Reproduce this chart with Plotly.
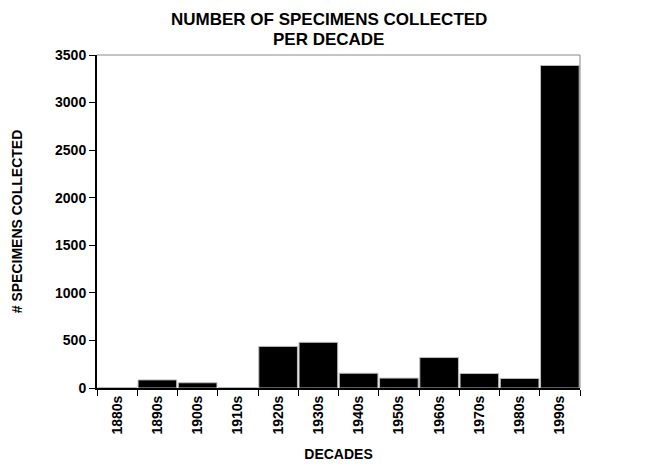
import plotly.graph_objects as go

decades = ["1880s", "1890s", "1900s", "1910s", "1920s", "1930s", "1940s",
           "1950s", "1960s", "1970s", "1980s", "1990s"]
specimens = [5, 85, 55, 5, 437, 480, 155, 104, 320, 152, 100, 3390]
y_ticks = [0, 500, 1000, 1500, 2000, 2500, 3000, 3500]

font = "Liberation Sans, Arial, sans-serif"

fig = go.Figure(go.Bar(
    x=decades, y=specimens,
    marker=dict(color="black", line=dict(color="#bbbbbb", width=1)),
))

fig.update_layout(
    width=653, height=466,
    margin=dict(l=89, r=81, t=47, b=86, autoexpand=False),
    paper_bgcolor="white", plot_bgcolor="white",
    bargap=0.04,
    showlegend=False,
    font=dict(family=font, color="black"),
    annotations=[
        dict(text="<b>NUMBER OF SPECIMENS COLLECTED</b>", xref="paper", yref="paper",
             x=0.48, y=1.0, yshift=36, xanchor="center", yanchor="middle",
             showarrow=False, font=dict(family=font, size=17, color="black")),
        dict(text="<b>PER DECADE</b>", xref="paper", yref="paper",
             x=0.48, y=1.0, yshift=16, xanchor="center", yanchor="middle",
             showarrow=False, font=dict(family=font, size=17, color="black")),
    ],
    xaxis=dict(
        type="category", automargin=False,
        tickson="boundaries", ticks="outside", ticklen=6, tickcolor="black",
        tickangle=-90,
        tickfont=dict(family=font, size=14, color="black", weight="bold"),
        showline=True, linecolor="black", linewidth=2,
        showgrid=False,
        title=dict(text="<b>DECADES</b>", font=dict(family=font, size=14), standoff=16),
    ),
    yaxis=dict(
        range=[0, 3500], tickvals=y_ticks, automargin=False,
        ticks="outside", ticklen=6, tickcolor="black",
        tickfont=dict(family=font, size=14, color="black", weight="bold"),
        showline=True, linecolor="black", linewidth=2,
        showgrid=False, zeroline=False,
        title=dict(text="<b># SPECIMENS COLLECTED</b>", font=dict(family=font, size=14), standoff=29),
    ),
    shapes=[
        dict(type="line", xref="paper", yref="paper", x0=0, x1=1, y0=1, y1=1,
             line=dict(color="#888888", width=1)),
        dict(type="line", xref="paper", yref="paper", x0=1, x1=1, y0=0, y1=1,
             line=dict(color="#888888", width=1)),
    ],
)

fig.write_html("out.html")
